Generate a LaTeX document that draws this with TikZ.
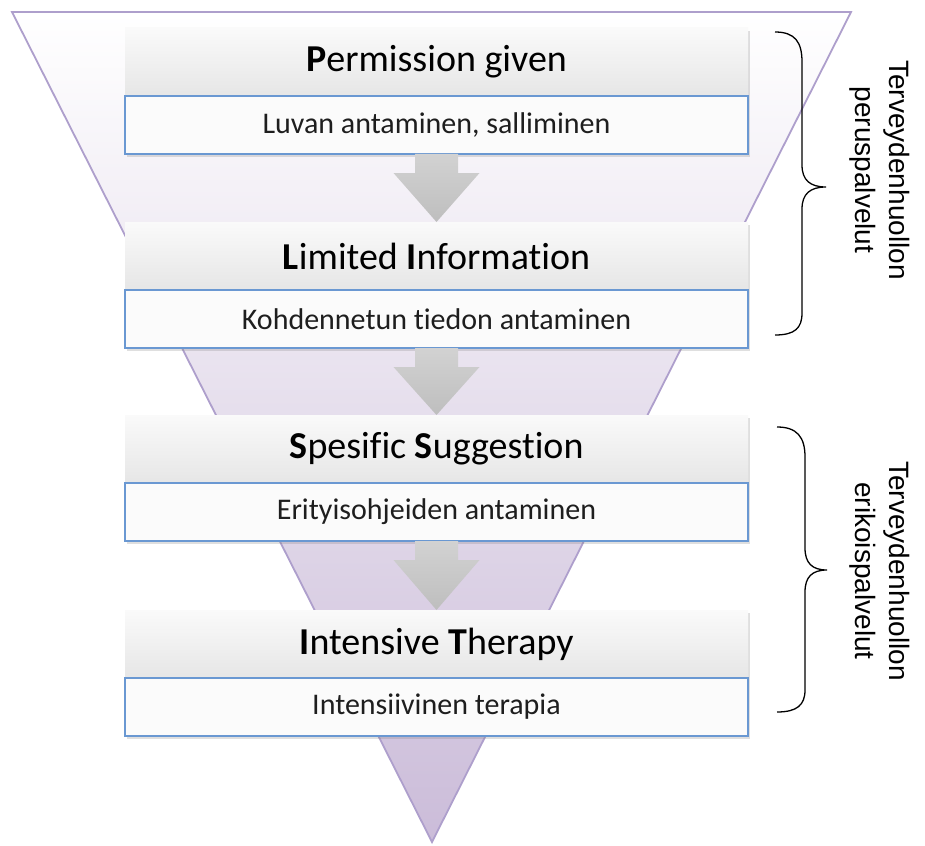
\documentclass[tikz,border=0pt]{standalone}
\usepackage{fontspec}
\setmainfont[Ligatures=NoCommon]{Carlito}
\newfontfamily\arialfont{Liberation Sans}
\usetikzlibrary{shadows,calc}

\definecolor{funnelline}{HTML}{AE9FCC}
\definecolor{funneltop}{HTML}{FFFFFF}
\definecolor{funnelmid}{HTML}{E8E2EF}
\definecolor{funnelbot}{HTML}{CBBCD9}
\definecolor{headtop}{HTML}{FAFAFA}
\definecolor{headbot}{HTML}{E6E6E6}
\definecolor{subfill}{HTML}{FBFBFB}
\definecolor{boxblue}{HTML}{6A98D2}
\definecolor{arrowtop}{HTML}{D2D2D2}
\definecolor{arrowbot}{HTML}{BEBEBE}
\definecolor{subtext}{HTML}{1E1E1E}

\tikzset{
  boxshadow/.style={drop shadow={opacity=0.25, shadow xshift=2pt, shadow yshift=-3pt}},
  headbox/.style={rectangle, inner sep=0pt, outer sep=0pt,
    minimum width=623pt, minimum height=68pt,
    top color=headtop, bottom color=headbot, boxshadow,
    font=\fontsize{38}{40}\selectfont, text=black},
  subbox/.style={rectangle, inner sep=0pt, outer sep=0pt,
    minimum width=623pt, minimum height=58pt,
    draw=boxblue, line width=1.6pt, fill=subfill, boxshadow,
    font=\fontsize{30}{32}\selectfont, text=subtext},
  flowarrow/.style={top color=arrowtop, bottom color=arrowbot, draw=none},
  bracket/.style={draw=black, line width=1.3pt},
  sidelabel/.style={rotate=-90, align=center, inner sep=0pt,
    font=\arialfont\fontsize{28}{34}\selectfont}
}

% down arrow from the bottom of one box to the top of the next
\newcommand\stagearrow[2]{%
  \shade[flowarrow]
    ($(#1.south)+(-21.5,0)$) -- ($(#1.south)+(21.5,0)$) --
    ($(#1.south)+(21.5,19)$) -- ($(#1.south)+(43,19)$) --
    ($(#2.north)+(0,0)$) --
    ($(#1.south)+(-43,19)$) -- ($(#1.south)+(-21.5,19)$) -- cycle;}

\begin{document}
\begin{tikzpicture}[x=1pt,y=-1pt]
\useasboundingbox (0,0) rectangle (925,845);

% funnel
\coordinate (ftl) at (12,12);
\coordinate (ftr) at (851,12);
\coordinate (fap) at (432,842);
\shade[top color=funneltop, middle color=funnelmid, bottom color=funnelbot]
  (ftl) -- (ftr) -- (fap) -- cycle;
\draw[funnelline, line width=1.8pt, line join=miter] (ftl) -- (ftr) -- (fap) -- cycle;

% stages
\node[headbox, anchor=north] (h1) at (436.5,28) {\textbf{P}ermission given};
\node[subbox, anchor=north] (s1) at (h1.south) {Luvan antaminen, salliminen};

\node[headbox, anchor=north] (h2) at (436.5,222) {\textbf{L}imited \textbf{I}nformation};
\node[subbox, anchor=north] (s2) at (h2.south) {Kohdennetun tiedon antaminen};

\node[headbox, anchor=north] (h3) at (436.5,415) {\textbf{S}pesific \textbf{S}uggestion};
\node[subbox, anchor=north] (s3) at (h3.south) {Erityisohjeiden antaminen};

\node[headbox, anchor=north] (h4) at (436.5,610) {\textbf{I}ntensive \textbf{T}herapy};
\node[subbox, anchor=north] (s4) at (h4.south) {Intensiivinen terapia};

\stagearrow{s1}{h2}
\stagearrow{s2}{h3}
\stagearrow{s3}{h4}

% braces
\coordinate (b1top) at (775,32);
\coordinate (b1tip) at (826,187);
\coordinate (b1bot) at (775,335);
\draw[bracket] (b1top) .. controls (795,32) and (802,42) .. (802,62)
  -- (802,165) .. controls (802,180) and (810,187) .. (b1tip)
  .. controls (810,187) and (802,194) .. (802,209)
  -- (802,313) .. controls (802,328) and (795,335) .. (b1bot);

\coordinate (b2top) at (777,427);
\coordinate (b2tip) at (827,570);
\coordinate (b2bot) at (777,712);
\draw[bracket] (b2top) .. controls (797,427) and (805,437) .. (805,457)
  -- (805,548) .. controls (805,563) and (812,570) .. (b2tip)
  .. controls (812,570) and (805,577) .. (805,592)
  -- (805,690) .. controls (805,705) and (797,712) .. (b2bot);

\node[sidelabel] (g1) at (880,170) {Terveydenhuollon\\peruspalvelut};
\node[sidelabel] (g2) at (880,571) {Terveydenhuollon\\erikoispalvelut};

\end{tikzpicture}
\end{document}
